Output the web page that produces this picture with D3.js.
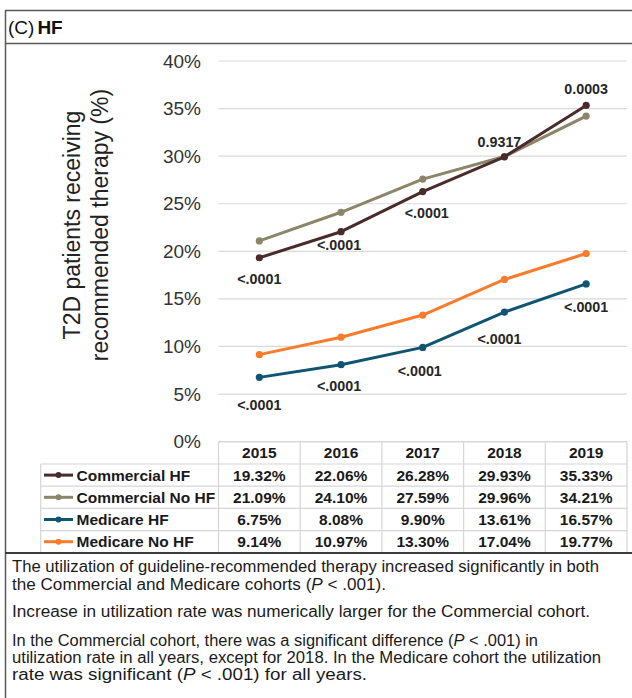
<!DOCTYPE html>
<html><head><meta charset="utf-8">
<script src="https://cdn.jsdelivr.net/npm/d3@7"></script>
<style>
html,body{margin:0;padding:0;background:#fff;}
svg{display:block;font-family:"Liberation Sans",Arial,sans-serif;}
</style></head>
<body><svg id="chart" width="632" height="698"></svg>
<script>
const years = ["2015","2016","2017","2018","2019"];
const seriesNames = ["Commercial HF","Commercial No HF","Medicare HF","Medicare No HF"];
const commercialHF = [19.32,22.06,26.28,29.93,35.33];
const commercialNoHF = [21.09,24.10,27.59,29.96,34.21];
const medicareHF = [6.75,8.08,9.90,13.61,16.57];
const medicareNoHF = [9.14,10.97,13.30,17.04,19.77];
const commercialP = ["<.0001","<.0001","<.0001","0.9317","0.0003"];
const medicareP = ["<.0001","<.0001","<.0001","<.0001","<.0001"];
const yTicks = [0,5,10,15,20,25,30,35,40];
const yTitleLines = ["T2D patients receiving","recommended therapy (%)"];
const noteLines = [
  [["The utilization  of guideline-recommended therapy increased significantly in both",0]],
  [[" the Commercial  and Medicare cohorts (",0],["P",1],[" < .001).",0]],
  [["Increase in utilization  rate was numerically larger for the Commercial cohort.",0]],
  [["In the Commercial cohort, there was a significant difference (",0],["P",1],[" < .001) in",0]],
  [["utilization  rate in all years, except for 2018. In the Medicare cohort the utilization",0]],
  [["rate was significant  (",0],["P",1],[" < .001) for all years.",0]]
];

const colors = ["#4a2b2c","#8b8569","#0f5571","#f97b2c"];
const seriesValues = [commercialHF, commercialNoHF, medicareHF, medicareNoHF];

const svg = d3.select("#chart");
svg.append("rect").attr("width",632).attr("height",698).attr("fill","#fff");

// frame
const frameColor = "#5a5a5a";
svg.append("line").attr("x1",5.5).attr("x2",5.5).attr("y1",10).attr("y2",698).attr("stroke",frameColor).attr("stroke-width",1.5);
svg.append("line").attr("x1",5).attr("x2",632).attr("y1",10.5).attr("y2",10.5).attr("stroke",frameColor).attr("stroke-width",1.5);
svg.append("line").attr("x1",5).attr("x2",632).attr("y1",43.5).attr("y2",43.5).attr("stroke",frameColor).attr("stroke-width",1.5);

// title
const title = svg.append("text").attr("x",8).attr("y",33.5).attr("font-size",19).attr("fill","#111");
title.append("tspan").text("(C)");
title.append("tspan").attr("font-weight","bold").attr("dx",3).text("HF");

// scales
const x = d3.scaleBand().domain(years).range([218.5,627]);
const y = d3.scaleLinear().domain([0,40]).range([441.6,61]);
const cx = d => x(d) + x.bandwidth()/2;

// gridlines
svg.append("g").selectAll("line").data(yTicks).join("line")
  .attr("x1",218.5).attr("x2",627)
  .attr("y1",d=>y(d)).attr("y2",d=>y(d))
  .attr("stroke","#d9d9d9").attr("stroke-width",1.2);

// y axis labels
const yAxis = d3.axisLeft(y).tickValues(yTicks).tickFormat(d=>d+"%").tickSize(0).tickPadding(0);
const ga = svg.append("g").attr("transform","translate(201,0)").call(yAxis);
ga.select(".domain").remove();
ga.selectAll("text").attr("font-size",19).attr("fill","#333").attr("font-family","Liberation Sans, Arial, sans-serif");

// y title
const yt = svg.append("text").attr("transform","translate(0,225) rotate(-90)")
  .attr("text-anchor","middle").attr("font-size",23).attr("fill","#222");
yt.selectAll("tspan").data(yTitleLines).join("tspan")
  .attr("x",0).attr("y",(d,i)=> i===0 ? 80 : 108).text(d=>d);

// lines
const line = d3.line().x((d,i)=>cx(years[i])).y(d=>y(d));
const order = [1,0,3,2];
order.forEach(si=>{
  svg.append("path").datum(seriesValues[si]).attr("d",line)
    .attr("fill","none").attr("stroke",colors[si]).attr("stroke-width",3).attr("stroke-linejoin","round");
  svg.append("g").selectAll("circle").data(seriesValues[si]).join("circle")
    .attr("cx",(d,i)=>cx(years[i])).attr("cy",d=>y(d)).attr("r",3.6).attr("fill",colors[si]);
});

// p-value labels
const cLabelDx = [0,-2,4,-5,0], cLabelDy = [21,13,21,-15,-16];
const mLabelDx = [0,-2,-3,-5,0], mLabelDy = [28,21,24,27,23];
function pLabels(vals, labels, dxs, dys){
  svg.append("g").selectAll("text").data(labels).join("text")
    .attr("x",(d,i)=>cx(years[i])+dxs[i]).attr("y",(d,i)=>y(vals[i])+dys[i])
    .attr("dy","0.35em").attr("text-anchor","middle")
    .attr("font-size",14.3).attr("font-weight","bold").attr("fill","#262626").text(d=>d);
}
pLabels(commercialHF, commercialP, cLabelDx, cLabelDy);
pLabels(medicareHF, medicareP, mLabelDx, mLabelDy);

// data table
const tableLeft = 40.7, tableTop = 441.6, headerBottom = 464, tableBottom = 552.8;
const row = d3.scaleBand().domain(seriesNames).range([headerBottom, tableBottom]);
const tg = svg.append("g");
const gridC = "#d6d6d6";
tg.append("line").attr("x1",218.5).attr("x2",627).attr("y1",tableTop).attr("y2",tableTop).attr("stroke",gridC).attr("stroke-width",1.2);
tg.selectAll("line.h").data(seriesNames).join("line").attr("class","h")
  .attr("x1",tableLeft).attr("x2",627).attr("y1",d=>row(d)).attr("y2",d=>row(d)).attr("stroke",gridC).attr("stroke-width",1.2);
tg.append("line").attr("x1",tableLeft).attr("x2",tableLeft).attr("y1",headerBottom).attr("y2",tableBottom).attr("stroke",gridC).attr("stroke-width",1.2);
tg.selectAll("line.v").data(years.concat(["end"])).join("line").attr("class","v")
  .attr("x1",d=> d==="end" ? 627 : x(d)).attr("x2",d=> d==="end" ? 627 : x(d))
  .attr("y1",tableTop).attr("y2",tableBottom).attr("stroke",gridC).attr("stroke-width",1.2);
tg.selectAll("text.yr").data(years).join("text").attr("class","yr")
  .attr("x",d=>cx(d)).attr("y",(tableTop+headerBottom)/2).attr("dy","0.36em")
  .attr("text-anchor","middle").attr("font-size",15.5).attr("font-weight","bold").attr("fill","#1a1a1a").text(d=>d);
seriesNames.forEach((name,si)=>{
  const ry = row(name) + row.bandwidth()/2;
  tg.append("line").attr("x1",44).attr("x2",73).attr("y1",ry).attr("y2",ry).attr("stroke",colors[si]).attr("stroke-width",3);
  tg.append("circle").attr("cx",58.5).attr("cy",ry).attr("r",3).attr("fill",colors[si]);
  tg.append("text").attr("x",76.5).attr("y",ry).attr("dy","0.36em").attr("font-size",15.5)
    .attr("font-weight","bold").attr("fill","#1a1a1a").text(name);
  tg.selectAll(null).data(seriesValues[si]).join("text")
    .attr("x",(d,i)=>cx(years[i])).attr("y",ry).attr("dy","0.36em").attr("text-anchor","middle")
    .attr("font-size",15.5).attr("font-weight","bold").attr("fill","#1a1a1a").text(d=>d.toFixed(2)+"%");
});

// bottom separator
svg.append("line").attr("x1",5).attr("x2",632).attr("y1",553).attr("y2",553).attr("stroke","#3c3c3c").attr("stroke-width",2);

// notes
const noteY = [572, 589.5, 617, 646, 663, 680];
const noteW = [587, 374, 578, 526, 589, 355];
noteLines.forEach((parts,i)=>{
  const t = svg.append("text").attr("x",12).attr("y",noteY[i]).attr("font-size",16).attr("fill","#1a1a1a")
    .attr("textLength",noteW[i]).attr("lengthAdjust","spacingAndGlyphs");
  parts.forEach(p=>{
    t.append("tspan").attr("font-style",p[1]?"italic":"normal").text(p[0]);
  });
});
</script></body></html>
